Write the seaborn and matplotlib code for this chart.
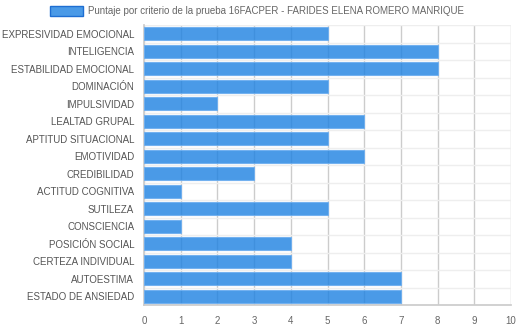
import matplotlib
matplotlib.use("Agg")
import matplotlib.pyplot as plt
from matplotlib.patches import Rectangle
import seaborn as sns
import pandas as pd

categorias = [
    "EXPRESIVIDAD EMOCIONAL", "INTELIGENCIA", "ESTABILIDAD EMOCIONAL",
    "DOMINACIÓN", "IMPULSIVIDAD", "LEALTAD GRUPAL", "APTITUD SITUACIONAL",
    "EMOTIVIDAD", "CREDIBILIDAD", "ACTITUD COGNITIVA", "SUTILEZA",
    "CONSCIENCIA", "POSICIÓN SOCIAL", "CERTEZA INDIVIDUAL", "AUTOESTIMA",
    "ESTADO DE ANSIEDAD",
]
puntajes = [5, 8, 8, 5, 2, 6, 5, 6, 3, 1, 5, 1, 4, 4, 7, 7]
ticks_x = list(range(0, 11))
serie = "Puntaje por criterio de la prueba 16FACPER - FARIDES ELENA ROMERO MANRIQUE"

df = pd.DataFrame({"criterio": categorias, "puntaje": puntajes})

sns.set_theme(style="white")
plt.rcParams["font.family"] = ["Liberation Sans", "DejaVu Sans"]

fig = plt.figure(figsize=(5.18, 3.28), dpi=100)
ax = fig.add_axes([144 / 518, 1 - 305 / 328, (511 - 144) / 518, (305 - 25) / 328])

bar_face = (29 / 255, 129 / 255, 226 / 255, 0.8)
bar_edge = (110 / 255, 175 / 255, 240 / 255, 0.9)
sns.barplot(data=df, y="criterio", x="puntaje", orient="h", ax=ax,
            color=bar_face, width=0.72, edgecolor=bar_edge, linewidth=0.8,
            saturation=1, zorder=3)
for p in ax.patches:
    p.set_facecolor(bar_face)

ax.set_xlim(0, 10)
ax.set_ylim(len(categorias) - 0.5, -0.5)
ax.set_xticks(ticks_x)
ax.set_xticklabels([str(t) for t in ticks_x], fontsize=7, color="#666666")
ax.set_yticks(range(len(categorias)))
ax.set_yticklabels(categorias, fontsize=7, color="#555555")
ax.set_xlabel("")
ax.set_ylabel("")

# vertical grid at each integer, horizontal grid between categories
for t in ticks_x:
    ax.axvline(t, color="#cccccc", lw=1, zorder=1)
for i in range(len(categorias) + 1):
    ax.axhline(i - 0.5, color="#eeeeee", lw=1, zorder=1)

for side in ["top", "right"]:
    ax.spines[side].set_visible(False)
ax.spines["left"].set_color("#cccccc")
ax.spines["bottom"].set_color("#cccccc")
ax.tick_params(axis="x", length=6, color="#cccccc", pad=2)
ax.set_yticks([i - 0.5 for i in range(len(categorias) + 1)], minor=True)
ax.tick_params(axis="y", which="minor", length=8, color="#eeeeee")
ax.tick_params(axis="y", which="major", length=0, pad=7)

# legend
fig.patches.append(Rectangle((50 / 518, 1 - 16 / 328), 33 / 518, 10 / 328,
                             transform=fig.transFigure, facecolor=bar_face,
                             edgecolor=(30 / 255, 110 / 255, 210 / 255), lw=1))
fig.text(88 / 518, 1 - 11 / 328, serie, fontsize=7, color="#666666",
         va="center", ha="left")

fig.savefig("out.png", dpi=100)
